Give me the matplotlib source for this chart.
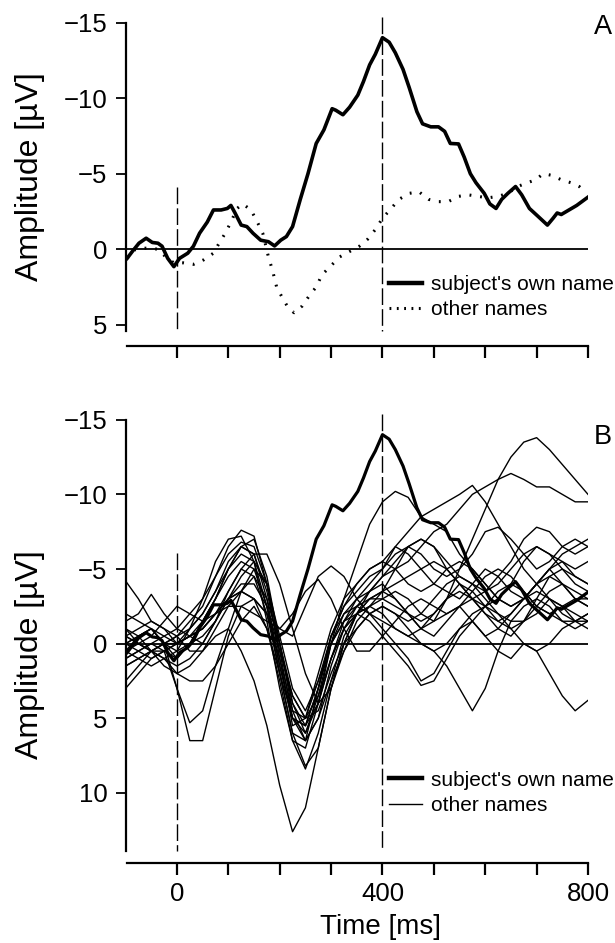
#!/usr/bin/env python3
import matplotlib

matplotlib.use("Agg")
import matplotlib.pyplot as plt
from matplotlib.lines import Line2D

plt.rcParams["font.family"] = ["Liberation Sans", "DejaVu Sans"]

# ---- panel A: grand averages ----
own_t = [-97, -87, -74, -60, -48, -37, -29, -18, -6, 5, 21, 32, 44, 59, 71, 86,
         98, 105, 113, 125, 136, 148, 163, 178, 190, 202, 213, 225, 240, 255,
         271, 286, 302, 309, 323, 336, 352, 363, 375, 386, 400, 413, 425, 440,
         452, 467, 478, 494, 509, 521, 532, 548, 559, 571, 582, 598, 609, 621,
         632, 644, 659, 671, 686, 702, 721, 732, 740, 748, 763, 778, 794, 800]
own_v = [0.6, 0.15, -0.4, -0.73, -0.45, -0.4, -0.2, 0.6, 1.15, 0.6, 0.26, -0.2,
         -1.06, -1.8, -2.6, -2.6, -2.7, -2.9, -2.4, -1.6, -1.5, -1.06, -0.6,
         -0.5, -0.22, -0.6, -0.84, -1.5, -3.3, -5.0, -7.0, -7.9, -9.3, -9.2,
         -8.9, -9.4, -10.2, -11.1, -12.2, -12.9, -14.0, -13.7, -13.0, -11.9,
         -10.7, -9.1, -8.3, -8.1, -8.1, -7.8, -7.0, -6.97, -6.1, -5.0, -4.4,
         -3.7, -3.0, -2.7, -3.3, -3.7, -4.15, -3.6, -2.7, -2.2, -1.6, -2.05,
         -2.4, -2.3, -2.6, -2.9, -3.3, -3.45]

other_t = [-97, -83, -68, -52, -37, -22, -6, 13, 32, 52, 71, 82, 94, 105, 117,
           128, 144, 155, 167, 178, 186, 194, 205, 217, 228, 244, 259, 271, 282,
           298, 317, 336, 355, 371, 386, 400, 417, 432, 452, 471, 490, 509, 528,
           548, 567, 586, 605, 625, 644, 663, 682, 698, 713, 728, 748, 767, 783,
           794]
other_v = [0.6, 0.05, -0.07, -0.07, 0.0, 0.5, 0.9, 0.9, 1.0, 0.7, 0.26, -0.4,
           -1.06, -1.8, -2.7, -3.0, -2.6, -1.9, -1.06, 0.5, 1.4, 2.5, 3.2, 3.9,
           4.2, 3.75, 3.0, 2.5, 1.7, 1.15, 0.5, 0.15, -0.2, -0.66, -1.3, -2.05,
           -2.7, -3.3, -3.7, -3.8, -3.3, -3.15, -3.15, -3.5, -3.6, -3.5, -3.4,
           -3.5, -3.7, -4.15, -4.4, -4.6, -5.0, -4.9, -4.6, -4.4, -4.15, -3.8]

# ---- panel B: single "other name" averages, sampled every 25 ms ----
single_t = [-100, -75, -50, -25, 0, 25, 50, 75, 100, 125, 150, 175, 200, 225,
            250, 275, 300, 325, 350, 375, 400, 425, 450, 475, 500, 525, 550,
            575, 600, 625, 650, 675, 700, 725, 750, 775, 800]
single_names = [
    [-1, -0.5, 0.5, 0, -0.5, -1.5, -2.5, -4.5, -6.5, -7.6, -7.2, -4, 1, 5.5, 5, 2, -1, -3, -4, -5, -5.5, -6.5, -6, -5, -4, -3.5, -3, -4, -5, -4.5, -3.5, -3, -4, -5, -5.5, -4.5, -4],
    [0.5, -0.5, -1, 0, 0.5, -1, -3, -5.5, -7, -7.2, -5.5, -1.5, 3, 6.5, 7, 4, 0, -3, -5.5, -8, -9.5, -10.2, -9.8, -8.5, -8, -7.5, -6, -5, -4, -3, -2.5, -3, -4, -5, -4, -3, -2.5],
    [-2, -1.5, -1, -0.5, 0, -0.5, -1, -2, -3.5, -5, -6, -6, -4, -1, 2, 4, 3, 0, -2, -3.5, -4.5, -5, -5.5, -6.5, -7.5, -8, -9, -10, -10.5, -11, -11.4, -11, -10.5, -10.5, -10, -9.5, -9.5],
    [1.5, 1, 0.5, 0, 0, -1, -2, -3.5, -5, -6.5, -6, -3, 1.5, 5, 5.5, 3, -0.5, -2, -3, -3.5, -4, -3, -2, -1, -1.5, -3, -5, -7, -9, -11, -12.5, -13.5, -13.8, -13, -12, -11, -10],
    [0, -0.5, -1, 0, 1, 0, -1.5, -3, -5, -6, -5.5, -2.5, 2, 6, 6.5, 3, -0.5, -2.5, -3.5, -4.5, -5, -6.5, -7.5, -8.5, -9, -9.5, -10, -10.6, -9.5, -8, -6.5, -5, -4, -3, -2.5, -2, -1.5],
    [-1, 0, 0.5, 1, 2, 1.5, 0.5, -0.5, -1, 0.5, 2.5, 5.5, 9.5, 12.6, 11, 7, 3, 0.5, -1.5, -2.5, -3, -3.5, -3, -2, -1.5, -2, -2.5, -1.5, -0.5, -1, -2, -3, -3.5, -3, -2, -1.5, -2],
    [0, -0.5, -1, 0, 3, 6.5, 6.5, 3, -0.5, -2.5, -3, -2, 1, 4.5, 5, 2.5, 0, -2, -2.5, -3, -3.5, -3, -2, -1, -0.5, -1.5, -2.5, -3, -2, -1, -0.5, -1.5, -3, -4.5, -5, -4.5, -4],
    [-0.5, 0, 0.5, 0.5, 3, 5.3, 4.5, 1.5, -1, -3.5, -5, -4, 0, 4, 6, 3.5, 0, -1.5, -2.5, -2, -1, 0, 1, 2.5, 2, 0.5, -1, -1.5, -0.5, 0.5, 1, 0, 0.5, 2, 3.5, 4.5, 3.8],
    [1, 0.5, 0, 0.5, 1, 0, -1.5, -3, -4.5, -5.5, -5, -2.5, 1.5, 5, 5.5, 3, 0, -1.5, -2, -1.5, -0.5, 0.5, 1.5, 2.8, 2.5, 1, -0.5, -1.5, -2.5, -3.5, -4, -3.5, -2.5, -2, -2.5, -3, -3],
    [-0.5, -1, -1.5, -1, 0, -0.5, -1.5, -3, -5, -6.5, -7, -4.5, 0, 4, 5.5, 4, 1, -1, -2, -2.5, -2, -1, -0.5, 0, 0.5, 1.5, 3, 4.5, 3, 0.5, -1.5, -2.5, -3, -2.5, -1.5, -1, -1.5],
    [-4.2, -3, -1.5, -1, -0.5, 0.5, 0.5, -1, -2.5, -3.5, -4.5, -3, 0, 3.5, 5, 3.5, 1, -1.5, -3, -4, -5, -6, -6.5, -6, -5, -4.5, -5, -6, -7.5, -7.8, -7, -6, -5, -5.5, -6.5, -7, -6.5],
    [-1.5, -2, -3.3, -2, -1, -0.5, 0, -1.5, -3, -4.5, -5.5, -4, -0.5, 3, 4.5, 2.5, -0.5, -2.5, -4, -5, -5.5, -5, -4, -3.5, -4, -5, -5.5, -5, -4, -3, -2.5, -3, -4, -5, -6, -6.5, -7],
    [0.5, 0, -0.5, -1.5, -2.5, -2, -1.5, -2, -2.5, -2.5, -2, -1.5, -1, -0.5, -2.5, -4.5, -5.2, -4.5, -3, -2, -1.5, -1, -0.5, -1, -2, -3, -4, -3.5, -2.5, -1.5, -1, -1.5, -2.5, -3.5, -4, -3.5, -3],
    [1, 0.5, 1, 0.5, 0, -0.5, -1, -2, -3, -3.5, -3, -2, -1, -2, -3.5, -4.3, -3, -1, 0.5, 0.5, -0.5, -1.5, -2.5, -3, -2.5, -2, -2.5, -3.5, -4.5, -5, -4.5, -3.5, -2.5, -2, -1.5, -1.5, -2],
    [0.5, 1, 1.5, 1, 0.5, 0, -0.5, -1.5, -3.5, -5, -4.5, -2, 2, 6, 8.2, 7, 3, 0, -2, -3, -3.5, -4, -4.5, -5, -5.5, -5, -4, -3, -2.5, -3, -4, -5.5, -6.5, -6, -5, -4, -3.5],
    [-0.5, 0, 0.5, 1.5, 2, 2.5, 2.5, 1.5, 0, -1.5, -2.5, -1, 2.5, 6.5, 8.4, 6, 2.5, -0.5, -2, -3, -3, -2.5, -2, -1.5, -2, -3, -3.5, -3, -2, -1.5, -2, -3, -4, -4.5, -4, -3, -2.5],
    [0, 0.5, 0, -0.5, -1, -2, -3, -4.5, -6, -6.8, -6.5, -4, 0, 4.5, 6.5, 5, 1.5, -1, -2.5, -3.5, -4.5, -5.5, -6.5, -7, -6.5, -5.5, -4.5, -4, -3.5, -4, -5, -6, -6.5, -6, -5.5, -5, -5.5],
    [1.5, 1, 0.5, 1, 1.5, 1, 0, -1.5, -3, -4, -4, -2.5, 0.5, 3.5, 5, 4.5, 2, 0, -1, -2, -2.5, -2, -1, 0, 0.5, 0, -1, -2, -2.5, -2, -1, 0, 0.5, 0, -1, -1.5, -1.5],
    [2.5, 1.5, 0.5, 0, -0.5, -1, -2, -3.5, -5.5, -6.5, -6, -3.5, 0.5, 5, 6, 4, 1, -1, -2, -2.5, -3.5, -5, -6.5, -7, -6.5, -5, -4, -3, -3.5, -4.5, -5.5, -7, -7.8, -7.5, -6.5, -6, -6.5],
    [3, 2, 1, 0.5, 0, -0.5, -1, -2, -3, -3.5, -3, -1, 2, 5, 6.5, 5, 2.5, 0.5, -1, -2, -2.5, -2, -1.5, -2, -3, -4, -4.5, -4, -3, -2, -1.5, -1.5, -2, -3, -2.5, -1.5, -1],
]

x_ticks = [0, 100, 200, 300, 400, 500, 600, 700, 800]
x_ticklabels = ["0", "", "", "", "400", "", "", "", "800"]
a_yticks = [-15, -10, -5, 0, 5]
b_yticks = [-15, -10, -5, 0, 5, 10]

fig = plt.figure(figsize=(6.15, 9.43), dpi=100)
ax_a = fig.add_axes([0.2042, 0.6331, 0.7519, 0.3510])
ax_b = fig.add_axes([0.2042, 0.0848, 0.7519, 0.4772])


def style_axes(ax, ylo, yhi, spine_lo, yticks, show_xlabels):
    ax.set_xlim(-100, 800)
    ax.set_ylim(ylo, yhi)
    for s in ("top", "right"):
        ax.spines[s].set_visible(False)
    ax.spines["left"].set_bounds(-15, spine_lo)
    ax.spines["bottom"].set_bounds(-97, 800)
    for s in ("left", "bottom"):
        ax.spines[s].set_linewidth(1.6)
    ax.set_yticks(yticks)
    ax.set_yticklabels([("\u2212" + str(-v)) if v < 0 else str(v) for v in yticks])
    ax.set_xticks(x_ticks)
    ax.set_xticklabels(x_ticklabels if show_xlabels else [""] * len(x_ticks))
    ax.tick_params(axis="y", direction="out", length=7, width=1.3, pad=6, labelsize=18.5)
    ax.tick_params(axis="x", direction="out", length=8.5, width=1.6, pad=5, labelsize=18.5)
    ax.axhline(0, xmin=0.0, xmax=1.0, color="black", lw=1.3)


dash = (0, (12, 3))

# panel A
style_axes(ax_a, 6.4, -15.5, 5.4, a_yticks, False)
ax_a.plot([0, 0], [-4.1, 5.4], color="black", lw=1.0, linestyle=dash)
ax_a.plot([400, 400], [-15.4, 5.4], color="black", lw=1.0, linestyle=dash)
ax_a.plot(own_t, own_v, color="black", lw=2.6)
ax_a.plot(other_t, other_v, color="black", lw=2.2, linestyle=(0, (0.6, 2.9)))
h_own = Line2D([], [], color="black", lw=3.2)
h_other = Line2D([], [], color="black", lw=2.2, linestyle=(0, (0.6, 1.8)))
ax_a.legend([h_own, h_other], ["subject's own name", "other names"],
            loc="upper left", bbox_to_anchor=(0.57, 0.215), frameon=False,
            fontsize=15, handlelength=1.6, handletextpad=0.4, labelspacing=0.3,
            borderpad=0, borderaxespad=0)
fig.text(0.995, 1 - 27 / 943, "A", ha="right", va="center", fontsize=19.5)

# panel B
style_axes(ax_b, 14.7, -15.45, 13.9, b_yticks, True)
ax_b.plot([0, 0], [-6.1, 13.9], color="black", lw=1.0, linestyle=dash)
ax_b.plot([400, 400], [-15.4, 13.9], color="black", lw=1.0, linestyle=dash)
for vals in single_names:
    ax_b.plot(single_t, vals, color="black", lw=1.0)
ax_b.plot(own_t, own_v, color="black", lw=2.3)
h_own_b = Line2D([], [], color="black", lw=3.2)
h_other_b = Line2D([], [], color="black", lw=1.0)
ax_b.legend([h_own_b, h_other_b], ["subject's own name", "other names"],
            loc="upper left", bbox_to_anchor=(0.57, 0.205), frameon=False,
            fontsize=15, handlelength=1.6, handletextpad=0.4, labelspacing=0.3,
            borderpad=0, borderaxespad=0)
fig.text(0.995, 1 - 437 / 943, "B", ha="right", va="center", fontsize=19.5)

# axis titles
fig.text(30 / 615, 1 - 177 / 943, "Amplitude [\u00b5V]", rotation=90,
         ha="center", va="center", fontsize=23)
fig.text(30 / 615, 1 - 655 / 943, "Amplitude [\u00b5V]", rotation=90,
         ha="center", va="center", fontsize=23)
fig.text(380 / 615, 0.003, "Time [ms]", ha="center", va="bottom",
         fontsize=20)

fig.savefig("out.png", dpi=100)
plt.close(fig)
